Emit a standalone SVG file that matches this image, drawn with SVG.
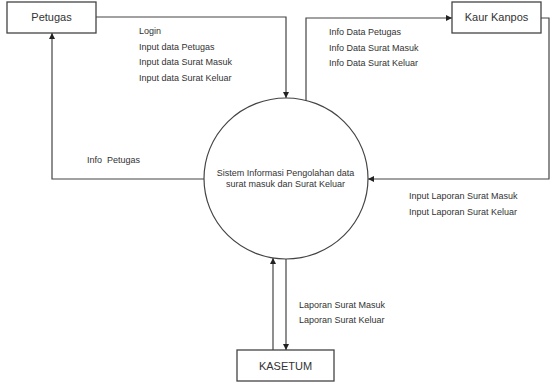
<svg xmlns="http://www.w3.org/2000/svg" width="551" height="383" viewBox="0 0 551 383">
<style>
.box{fill:#fff;stroke:#444;stroke-width:1.3}
.ln{fill:none;stroke:#444;stroke-width:1.2}
.lbl{font-family:"Liberation Sans",Arial,sans-serif;font-size:9px;fill:#333;white-space:pre}
.nm{font-family:"Liberation Sans",Arial,sans-serif;font-size:11px;fill:#333}
</style>
<defs>
<marker id="ah" viewBox="0 0 10 10" refX="10" refY="5" markerWidth="6" markerHeight="6" markerUnits="userSpaceOnUse" orient="auto">
<path d="M0,0 L10,5 L0,10 z" fill="#222"/>
</marker>
</defs>
<rect width="551" height="383" fill="#fff"/>
<g id="connectors">
<polyline class="ln" points="96,17 286,17 286,98" marker-end="url(#ah)"/>
<polyline class="ln" points="204,179 52,179 52,33" marker-end="url(#ah)"/>
<polyline class="ln" points="306,101 306,18 452,18" marker-end="url(#ah)"/>
<polyline class="ln" points="541,18 549,18 549,179 368,179" marker-end="url(#ah)"/>
<line class="ln" x1="273" y1="350" x2="273" y2="258" marker-end="url(#ah)"/>
<line class="ln" x1="286" y1="259" x2="286" y2="350" marker-end="url(#ah)"/>
<text class="lbl" x="139" y="34">Login</text>
<text class="lbl" x="139" y="49.5">Input data Petugas</text>
<text class="lbl" x="139" y="65">Input data Surat Masuk</text>
<text class="lbl" x="139" y="80.5">Input data Surat Keluar</text>
<text class="lbl" x="87" y="163">Info  Petugas</text>
<text class="lbl" x="329" y="35">Info Data Petugas</text>
<text class="lbl" x="329" y="50.5">Info Data Surat Masuk</text>
<text class="lbl" x="329" y="66">Info Data Surat Keluar</text>
<text class="lbl" x="409" y="199">Input Laporan Surat Masuk</text>
<text class="lbl" x="409" y="214.5">Input Laporan Surat Keluar</text>
<text class="lbl" x="299" y="307.5">Laporan Surat Masuk</text>
<text class="lbl" x="299" y="323">Laporan Surat Keluar</text>
</g>
<g id="petugas">
<rect class="box" x="7" y="2" width="89" height="31"/>
<text class="nm" x="51.5" y="21" text-anchor="middle">Petugas</text>
</g>
<g id="kaur-kanpos">
<rect class="box" x="452" y="2" width="89" height="31"/>
<text class="nm" x="496.5" y="21" text-anchor="middle">Kaur Kanpos</text>
</g>
<g id="kasetum">
<rect class="box" x="237" y="350" width="97" height="31"/>
<text class="nm" x="285.5" y="370" text-anchor="middle">KASETUM</text>
</g>
<g id="sistem">
<ellipse class="ln" cx="286" cy="178.5" rx="82" ry="80.5"/>
<text class="lbl" x="285.5" y="176" text-anchor="middle">Sistem Informasi Pengolahan data</text>
<text class="lbl" x="285.5" y="187" text-anchor="middle">surat masuk dan Surat Keluar</text>
</g>
</svg>
